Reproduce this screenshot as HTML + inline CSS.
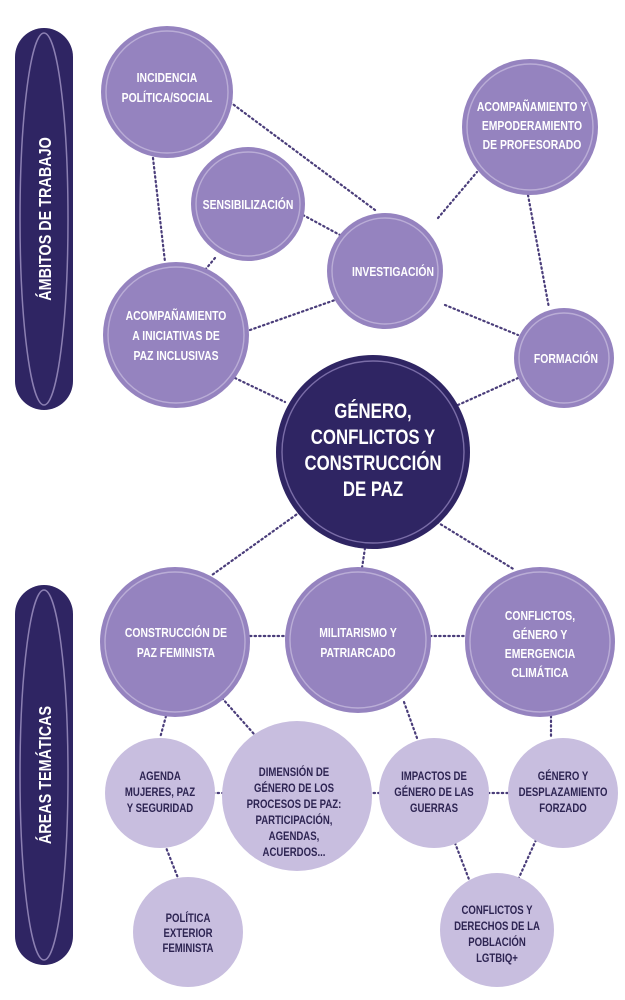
<!DOCTYPE html>
<html><head><meta charset="utf-8"><style>
html,body{margin:0;padding:0;background:#fff;}
svg{display:block;}
text{font-family:"Liberation Sans Narrow","Liberation Sans",sans-serif;font-weight:bold;text-anchor:middle;}
.w{fill:#fff;font-size:13px;}
.d{fill:#2d2452;font-size:12px;}
.l{stroke:#4a3d7a;stroke-width:2.2;stroke-dasharray:1.4 3.2;stroke-linecap:round;fill:none;}
.m{fill:#9583bf;}
.lt{fill:#c8bedf;}
.ring{fill:none;stroke:#d8d0ea;stroke-width:1.4;stroke-opacity:0.55;}
</style></head><body>
<svg width="625" height="1000" viewBox="0 0 625 1000" xmlns="http://www.w3.org/2000/svg">
<rect x="15" y="28" width="58" height="382" rx="29" fill="#2f2563"/>
<ellipse cx="44" cy="219" rx="24" ry="186" fill="none" stroke="#b3a7d4" stroke-width="1.5" stroke-opacity="0.7"/>
<text class="w" transform="translate(51,219) rotate(-90) scale(0.8,1)" style="font-size:18px">ÁMBITOS DE TRABAJO</text>
<rect x="15" y="585" width="58" height="380" rx="29" fill="#2f2563"/>
<ellipse cx="44" cy="775" rx="24" ry="185" fill="none" stroke="#b3a7d4" stroke-width="1.5" stroke-opacity="0.7"/>
<text class="w" transform="translate(51,775) rotate(-90) scale(0.8,1)" style="font-size:18px">ÁREAS TEMÁTICAS</text>

<line class="l" x1="230" y1="102" x2="375" y2="210"/>
<line class="l" x1="153" y1="158" x2="165" y2="262"/>
<line class="l" x1="303" y1="215" x2="340" y2="235"/>
<line class="l" x1="215" y1="258" x2="205" y2="270"/>
<line class="l" x1="250" y1="330" x2="335" y2="300"/>
<line class="l" x1="438" y1="218" x2="477" y2="172"/>
<line class="l" x1="528" y1="195" x2="549" y2="308"/>
<line class="l" x1="445" y1="305" x2="518" y2="335"/>
<line class="l" x1="235" y1="378" x2="285" y2="402"/>
<line class="l" x1="458" y1="405" x2="518" y2="378"/>
<line class="l" x1="300" y1="512" x2="212" y2="575"/>
<line class="l" x1="365" y1="548" x2="362" y2="568"/>
<line class="l" x1="437" y1="522" x2="515" y2="570"/>
<line class="l" x1="250" y1="636" x2="286" y2="636"/>
<line class="l" x1="430" y1="636" x2="466" y2="636"/>
<line class="l" x1="166" y1="716" x2="160" y2="738"/>
<line class="l" x1="222" y1="698" x2="262" y2="743"/>
<line class="l" x1="213" y1="793" x2="224" y2="793"/>
<line class="l" x1="404" y1="702" x2="417" y2="738"/>
<line class="l" x1="369" y1="793" x2="380" y2="793"/>
<line class="l" x1="551" y1="716" x2="551" y2="738"/>
<line class="l" x1="488" y1="793" x2="509" y2="793"/>
<line class="l" x1="165" y1="845" x2="178" y2="878"/>
<line class="l" x1="455" y1="843" x2="470" y2="882"/>
<line class="l" x1="536" y1="840" x2="517" y2="882"/>

<circle class="m" cx="167" cy="92" r="66"/><circle class="ring" cx="167" cy="92" r="61"/>
<circle class="m" cx="248" cy="204" r="57"/><circle class="ring" cx="248" cy="204" r="52"/>
<circle class="m" cx="176" cy="335" r="73"/><circle class="ring" cx="176" cy="335" r="68"/>
<circle class="m" cx="385" cy="271" r="58"/><circle class="ring" cx="385" cy="271" r="53"/>
<circle class="m" cx="530" cy="127" r="68"/><circle class="ring" cx="530" cy="127" r="63"/>
<circle class="m" cx="564" cy="358" r="50"/><circle class="ring" cx="564" cy="358" r="45"/>
<circle cx="373" cy="452" r="97" fill="#2f2563"/><circle cx="373" cy="452" r="91" fill="none" stroke="#9a8cc4" stroke-width="1.4" stroke-opacity="0.7"/>
<circle class="m" cx="175" cy="642" r="75"/><circle class="ring" cx="175" cy="642" r="70"/>
<circle class="m" cx="358" cy="640" r="73"/><circle class="ring" cx="358" cy="640" r="68"/>
<circle class="m" cx="540" cy="642" r="75"/><circle class="ring" cx="540" cy="642" r="70"/>

<circle class="lt" cx="160" cy="793" r="55"/>
<circle class="lt" cx="297" cy="796" r="75"/>
<circle class="lt" cx="434" cy="793" r="55"/>
<circle class="lt" cx="563" cy="793" r="55"/>
<circle class="lt" cx="188" cy="932" r="55"/>
<circle class="lt" cx="497" cy="930" r="57"/>

<g transform="scale(0.8,1)">
<text class="w" x="208.75" y="82">INCIDENCIA</text>
<text class="w" x="208.75" y="102">POLÍTICA/SOCIAL</text>
<text class="w" x="310" y="209">SENSIBILIZACIÓN</text>
<text class="w" x="220" y="320">ACOMPAÑAMIENTO</text>
<text class="w" x="220" y="340">A INICIATIVAS DE</text>
<text class="w" x="220" y="360">PAZ INCLUSIVAS</text>
<text class="w" x="491.25" y="276">INVESTIGACIÓN</text>
<text class="w" x="665" y="111">ACOMPAÑAMIENTO Y</text>
<text class="w" x="665" y="130">EMPODERAMIENTO</text>
<text class="w" x="665" y="149">DE PROFESORADO</text>
<text class="w" x="707.5" y="363">FORMACIÓN</text>
<text class="w" x="466.25" y="418" style="font-size:21px">GÉNERO,</text>
<text class="w" x="466.25" y="444" style="font-size:21px">CONFLICTOS Y</text>
<text class="w" x="466.25" y="470" style="font-size:21px">CONSTRUCCIÓN</text>
<text class="w" x="466.25" y="496" style="font-size:21px">DE PAZ</text>
<text class="w" x="220" y="637">CONSTRUCCIÓN DE</text>
<text class="w" x="220" y="657">PAZ FEMINISTA</text>
<text class="w" x="447.5" y="637">MILITARISMO Y</text>
<text class="w" x="447.5" y="657">PATRIARCADO</text>
<text class="w" x="675" y="620">CONFLICTOS,</text>
<text class="w" x="675" y="639">GÉNERO Y</text>
<text class="w" x="675" y="658">EMERGENCIA</text>
<text class="w" x="675" y="677">CLIMÁTICA</text>
<text class="d" x="200" y="780">AGENDA</text>
<text class="d" x="200" y="796">MUJERES, PAZ</text>
<text class="d" x="200" y="812">Y SEGURIDAD</text>
<text class="d" x="367.5" y="776">DIMENSIÓN DE</text>
<text class="d" x="367.5" y="792">GÉNERO DE LOS</text>
<text class="d" x="367.5" y="808">PROCESOS DE PAZ:</text>
<text class="d" x="367.5" y="824">PARTICIPACIÓN,</text>
<text class="d" x="367.5" y="840">AGENDAS,</text>
<text class="d" x="367.5" y="856">ACUERDOS...</text>
<text class="d" x="542.5" y="780">IMPACTOS DE</text>
<text class="d" x="542.5" y="796">GÉNERO DE LAS</text>
<text class="d" x="542.5" y="812">GUERRAS</text>
<text class="d" x="703.75" y="780">GÉNERO Y</text>
<text class="d" x="703.75" y="796">DESPLAZAMIENTO</text>
<text class="d" x="703.75" y="812">FORZADO</text>
<text class="d" x="235" y="922">POLÍTICA</text>
<text class="d" x="235" y="937">EXTERIOR</text>
<text class="d" x="235" y="952">FEMINISTA</text>
<text class="d" x="621.25" y="914">CONFLICTOS Y</text>
<text class="d" x="621.25" y="930">DERECHOS DE LA</text>
<text class="d" x="621.25" y="946">POBLACIÓN</text>
<text class="d" x="621.25" y="962">LGTBIQ+</text>
</g>
</svg>
</body></html>
